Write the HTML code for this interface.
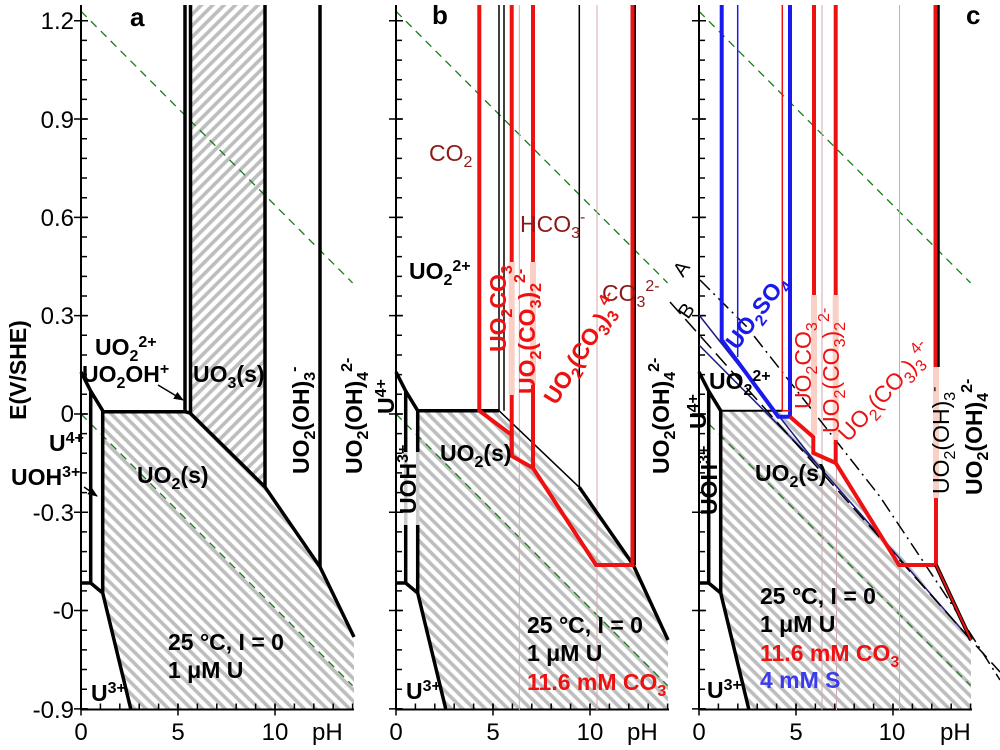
<!DOCTYPE html>
<html><head><meta charset="utf-8"><style>
html,body{margin:0;padding:0;background:#fff;}
svg{display:block;font-family:"Liberation Sans",Arial,sans-serif;}
.b{font-weight:bold;font-size:23px;}
.t{font-size:22px;}
</style></head><body>
<svg width="1000" height="750" viewBox="0 0 1000 750" xmlns="http://www.w3.org/2000/svg">
<defs>
<pattern id="hd" width="8" height="8" patternUnits="userSpaceOnUse" patternTransform="rotate(-45)"><rect width="8" height="8" fill="#fff"/><line x1="2" y1="0" x2="2" y2="8" stroke="#bdbdbd" stroke-width="3.6"/></pattern>
<pattern id="hu" width="8" height="8" patternUnits="userSpaceOnUse" patternTransform="rotate(45)"><rect width="8" height="8" fill="#fff"/><line x1="2" y1="0" x2="2" y2="8" stroke="#bdbdbd" stroke-width="3.6"/></pattern>
<marker id="ar" markerWidth="10" markerHeight="8" refX="9" refY="4" orient="auto" markerUnits="userSpaceOnUse"><path d="M0,0 L10,4 L0,8 z" fill="#000"/></marker>
<g id="common">
  <line x1="0" y1="11.3" x2="271.6" y2="282.9" stroke="#1a7a1a" stroke-width="1.3" stroke-dasharray="8 6"/>
  <line x1="0" y1="414" x2="271.6" y2="685.6" stroke="#1a7a1a" stroke-width="1.3" stroke-dasharray="8 6"/>
  <path d="M0 372 L9.7 391 L21.7 410.7" fill="none" stroke="#000" stroke-width="3.5"/>
  <path d="M0 583 H9.7 L21.7 593 L50 710" fill="none" stroke="#000" stroke-width="3.5"/>
  <line x1="0" y1="5" x2="0" y2="710" stroke="#000" stroke-width="2"/>
  <line x1="0" y1="709.5" x2="273" y2="709.5" stroke="#000" stroke-width="2"/>
  <line x1="3" y1="709.6" x2="3" y2="18" stroke="#000" stroke-width="6" stroke-dasharray="1.5 18.16"/>
  <line x1="0" y1="709.6" x2="0" y2="18" stroke="#000" stroke-width="14" stroke-dasharray="1.5 96.8"/>
  <line x1="-0.75" y1="706.5" x2="273" y2="706.5" stroke="#000" stroke-width="6" stroke-dasharray="1.5 17.9"/>
  <line x1="-0.75" y1="709.5" x2="273" y2="709.5" stroke="#000" stroke-width="12" stroke-dasharray="1.5 95.5"/>
</g>
</defs>

<!-- ================= Panel a ================= -->
<polygon points="101.7,411.7 185,411.7 190,413 265,487 320,567 354,637 354,710 131.7,710 101.7,593" fill="url(#hd)"/>
<polygon points="190,5 265,5 265,487 190,413" fill="url(#hu)"/>
<g transform="translate(81,0)">
  <use href="#common"/>
  <line x1="9.7" y1="391" x2="9.7" y2="583" stroke="#000" stroke-width="3.5"/>
  <line x1="21.7" y1="410.7" x2="21.7" y2="593" stroke="#000" stroke-width="3.5"/>
</g>
<path d="M101.7 411.7 H185 L190 413 L265 487 L320 567 L354 637" fill="none" stroke="#000" stroke-width="3.5"/>
<g stroke="#000" stroke-width="3.5">
<line x1="185" y1="5" x2="185" y2="411.7"/>
<line x1="190.5" y1="5" x2="190.5" y2="413"/>
<line x1="265" y1="5" x2="265" y2="487"/>
<line x1="320" y1="5" x2="320" y2="567"/>
</g>
<line x1="158" y1="385" x2="183" y2="400" stroke="#000" stroke-width="1.5" marker-end="url(#ar)"/>
<line x1="84" y1="487" x2="97" y2="496" stroke="#000" stroke-width="1.5" marker-end="url(#ar)"/>
<text x="130" y="26" class="b" style="font-size:26px">a</text>
<text x="95" y="355" class="b">UO<tspan dy="6" font-size="16">2</tspan><tspan dy="-14" font-size="16">2+</tspan></text>
<text x="82" y="382" class="b">UO<tspan dy="6" font-size="16">2</tspan><tspan dy="-6">OH</tspan><tspan dy="-8" font-size="16">+</tspan></text>
<text x="193" y="382" class="b">UO<tspan dy="6" font-size="16">3</tspan><tspan dy="-6">(s)</tspan></text>
<text transform="translate(309,474) rotate(-90)" class="b">UO<tspan dy="6" font-size="16">2</tspan><tspan dy="-6">(OH)</tspan><tspan dy="6" font-size="16">3</tspan><tspan dy="-16" font-size="16">-</tspan></text>
<text transform="translate(362,474) rotate(-90)" class="b">UO<tspan dy="6" font-size="16">2</tspan><tspan dy="-6">(OH)</tspan><tspan dy="6" font-size="16">4</tspan><tspan dy="-16" font-size="16">2-</tspan></text>
<text x="49" y="451" class="b">U<tspan dy="-8" font-size="16">4+</tspan></text>
<text x="11" y="485" class="b">UOH<tspan dy="-8" font-size="16">3+</tspan></text>
<text x="137" y="483" class="b">UO<tspan dy="6" font-size="16">2</tspan><tspan dy="-6">(s)</tspan></text>
<text x="168" y="650" class="b">25 °C, I = 0</text>
<text x="168" y="678" class="b">1 μM U</text>
<text x="91" y="701" class="b">U<tspan dy="-8" font-size="16">3+</tspan></text>
<text transform="translate(26,370) rotate(-90)" class="b" text-anchor="middle">E(V/SHE)</text>
<g class="t" text-anchor="end" style="font-size:24px">
<text x="74" y="29">1.2</text><text x="74" y="128">0.9</text><text x="74" y="226">0.6</text><text x="74" y="324">0.3</text>
<text x="74" y="422">0</text><text x="74" y="521">-0.3</text><text x="74" y="619">-0</text><text x="74" y="718">-0.9</text>
</g>
<g class="t" text-anchor="middle" style="font-size:24px">
<text x="81" y="740">0</text><text x="178" y="740">5</text><text x="275" y="740">10</text>
<text x="396" y="740">0</text><text x="493" y="740">5</text><text x="590" y="740">10</text>
<text x="699" y="740">0</text><text x="796" y="740">5</text><text x="892" y="740">10</text>
</g>
<g class="t" style="font-size:24px"><text x="312" y="740">pH</text><text x="627" y="740">pH</text><text x="940" y="740">pH</text></g>

<!-- ================= Panel b ================= -->
<polygon points="417.7,410.7 499,410.7 579.3,487.3 633.3,565 668,640 668,710 446,710 417.7,593" fill="url(#hd)"/>
<g transform="translate(396,0)">
  <use href="#common"/>
  <line x1="9.7" y1="391" x2="9.7" y2="452" stroke="#000" stroke-width="3.5"/>
  <line x1="9.7" y1="525" x2="9.7" y2="583" stroke="#000" stroke-width="3.5"/>
  <line x1="9.7" y1="452" x2="9.7" y2="525" stroke="#ccc" stroke-width="3.5"/>
  <line x1="21.7" y1="410.7" x2="21.7" y2="452" stroke="#000" stroke-width="3.5"/>
  <line x1="21.7" y1="525" x2="21.7" y2="593" stroke="#000" stroke-width="3.5"/>
  <line x1="21.7" y1="452" x2="21.7" y2="525" stroke="#ccc" stroke-width="3.5"/>
</g>
<g stroke="#d8a8a8" stroke-width="1"><line x1="519.3" y1="5" x2="519.3" y2="710"/><line x1="597" y1="5" x2="597" y2="710"/></g>
<line x1="417.7" y1="410.7" x2="499" y2="410.7" stroke="#000" stroke-width="3.5"/>
<path d="M499 410.7 L579.3 487.3" stroke="#000" stroke-width="1.5" fill="none"/>
<path d="M579.3 487.3 L633.3 565 L668 640" stroke="#000" stroke-width="3.5" fill="none"/>
<g stroke="#000" stroke-width="1.5"><line x1="499" y1="5" x2="499" y2="410.7"/><line x1="504" y1="5" x2="504" y2="410.7"/><line x1="579.3" y1="5" x2="579.3" y2="487.3"/></g>
<line x1="635" y1="5" x2="635" y2="565" stroke="#000" stroke-width="2"/>
<g stroke="#f9cfc6" stroke-width="6"><line x1="511.7" y1="262" x2="511.7" y2="395"/><line x1="533" y1="262" x2="533" y2="385"/></g>
<path d="M479.3 5 V410.7 L511.7 435 V456 L533 468 L596 565 H632.5 V5" fill="none" stroke="#ee1111" stroke-width="4"/>
<g stroke="#ee1111" stroke-width="4"><line x1="511.7" y1="5" x2="511.7" y2="262"/><line x1="511.7" y1="395" x2="511.7" y2="456"/><line x1="533" y1="5" x2="533" y2="262"/><line x1="533" y1="385" x2="533" y2="468"/></g>
<text x="432" y="24" class="b" style="font-size:26px">b</text>
<g fill="#8b1a1a" class="t" style="font-size:23px">
<text x="429" y="161">CO<tspan dy="6" font-size="16">2</tspan></text>
<text x="520" y="232">HCO<tspan dy="6" font-size="16">3</tspan><tspan dy="-16" font-size="16">-</tspan></text>
<text x="602" y="301">CO<tspan dy="6" font-size="16">3</tspan><tspan dy="-16" font-size="16">2-</tspan></text>
</g>
<text x="409" y="279" class="b">UO<tspan dy="6" font-size="16">2</tspan><tspan dy="-14" font-size="16">2+</tspan></text>
<g fill="#ee1111" class="b">
<text transform="translate(506,352) rotate(-90)">UO<tspan dy="6" font-size="16">2</tspan><tspan dy="-6">CO</tspan><tspan dy="6" font-size="16">3</tspan></text>
<text transform="translate(535,394) rotate(-90)">UO<tspan dy="6" font-size="16">2</tspan><tspan dy="-6">(CO</tspan><tspan dy="6" font-size="16">3</tspan><tspan dy="-6">)</tspan><tspan dy="6" font-size="16">2</tspan><tspan dy="-16" font-size="16">2-</tspan></text>
<text transform="translate(556,406) rotate(-58)">UO<tspan dy="6" font-size="16">2</tspan><tspan dy="-6">(CO</tspan><tspan dy="6" font-size="16">3</tspan><tspan dy="-6">)</tspan><tspan dy="6" font-size="16">3</tspan><tspan dy="-16" font-size="16">4-</tspan></text>
</g>
<text transform="translate(669,474) rotate(-90)" class="b">UO<tspan dy="6" font-size="16">2</tspan><tspan dy="-6">(OH)</tspan><tspan dy="6" font-size="16">4</tspan><tspan dy="-16" font-size="16">2-</tspan></text>
<text transform="translate(394,414) rotate(-90)" class="b">U<tspan dy="-8" font-size="16">4+</tspan></text>
<text transform="translate(416,514) rotate(-90)" class="b">UOH<tspan dy="-8" font-size="16">3+</tspan></text>
<text x="440" y="461" class="b">UO<tspan dy="6" font-size="16">2</tspan><tspan dy="-6">(s)</tspan></text>
<text x="527" y="633" class="b">25 °C, I = 0</text>
<text x="527" y="661" class="b">1 μM U</text>
<text x="527" y="690" class="b" fill="#ee1111">11.6 mM CO<tspan dy="6" font-size="16">3</tspan></text>
<text x="406" y="699" class="b">U<tspan dy="-8" font-size="16">3+</tspan></text>

<!-- ================= Panel c ================= -->
<polygon points="720,410.7 783,410.7 816,453 971,640 971,710 749,710 720,593" fill="url(#hd)"/>
<g transform="translate(699,0)">
  <use href="#common"/>
  <line x1="9.7" y1="391" x2="9.7" y2="583" stroke="#000" stroke-width="3.5"/>
  <line x1="21.7" y1="410.7" x2="21.7" y2="593" stroke="#000" stroke-width="3.5"/>
</g>
<g stroke="#d0a8b0" stroke-width="1"><line x1="822" y1="5" x2="822" y2="710"/><line x1="836.5" y1="5" x2="836.5" y2="710"/><line x1="899.5" y1="5" x2="899.5" y2="710"/></g>
<line x1="720" y1="410.7" x2="783" y2="410.7" stroke="#000" stroke-width="2"/>
<g fill="none" stroke="#1a1a80" stroke-width="1.5"><path d="M699 315 L816 463 L971 640"/><path d="M699 345 L816 463"/></g>
<polyline points="700,280 746.7,326.7 880,496.7 953.3,606.7 1000,680" fill="none" stroke="#000" stroke-width="1.5" stroke-dasharray="14 5 2 5"/>
<polyline points="670,302 971,640 1000,672" fill="none" stroke="#000" stroke-width="1.5" stroke-dasharray="16 7"/>
<line x1="737.7" y1="5" x2="737.7" y2="357" stroke="#1a1aee" stroke-width="1.5"/>
<path d="M721.7 5 V340 L778.3 416.7 H790 V5" fill="none" stroke="#1a1aee" stroke-width="4"/>
<path d="M782.3 5 V410.7 H790" fill="none" stroke="#ee1111" stroke-width="1.5"/>
<g stroke="#f9cfc6" stroke-width="6"><line x1="814" y1="295" x2="814" y2="435"/><line x1="835.7" y1="295" x2="835.7" y2="440"/><line x1="936" y1="367" x2="936" y2="498"/></g>
<line x1="938.5" y1="5" x2="938.5" y2="367" stroke="#000" stroke-width="2.5"/>
<path d="M790 416.7 L813.3 437 V453 L835.7 463 L899 565 H936 V498" fill="none" stroke="#ee1111" stroke-width="4"/>
<g stroke="#ee1111" stroke-width="4"><line x1="814" y1="5" x2="814" y2="295"/><line x1="835.7" y1="5" x2="835.7" y2="295"/><line x1="835.7" y1="440" x2="835.7" y2="463"/><line x1="935.5" y1="5" x2="935.5" y2="367"/></g>
<line x1="936" y1="565" x2="971" y2="640" stroke="#000" stroke-width="4"/>
<line x1="936" y1="565" x2="971" y2="640" stroke="#ee1111" stroke-width="2"/>
<text x="966" y="24" class="b" style="font-size:26px">c</text>
<text transform="translate(683,278) rotate(-55)" class="t" style="font-size:20px">A</text>
<text transform="translate(688,320) rotate(-55)" class="t" style="font-size:20px">B</text>
<text x="709" y="389" class="b">UO<tspan dy="6" font-size="16">2</tspan><tspan dy="-14" font-size="16">2+</tspan></text>
<text transform="translate(737,351) rotate(-53)" class="b" fill="#1a1aee">UO<tspan dy="6" font-size="16">2</tspan><tspan dy="-6">SO</tspan><tspan dy="6" font-size="16">4</tspan></text>
<g fill="#ee1111" class="t" style="font-size:23px">
<text transform="translate(811,409) rotate(-90)">UO<tspan dy="6" font-size="16">2</tspan><tspan dy="-6">CO</tspan><tspan dy="6" font-size="16">3</tspan></text>
<text transform="translate(839,433) rotate(-90)">UO<tspan dy="6" font-size="16">2</tspan><tspan dy="-6">(CO</tspan><tspan dy="6" font-size="16">3</tspan><tspan dy="-6">)</tspan><tspan dy="6" font-size="16">2</tspan><tspan dy="-16" font-size="16">2-</tspan></text>
<text transform="translate(848,443) rotate(-47)">UO<tspan dy="6" font-size="16">2</tspan><tspan dy="-6">(CO</tspan><tspan dy="6" font-size="16">3</tspan><tspan dy="-6">)</tspan><tspan dy="6" font-size="16">3</tspan><tspan dy="-16" font-size="16">4-</tspan></text>
</g>
<text transform="translate(949,494) rotate(-90)" class="t" style="font-size:23px">UO<tspan dy="6" font-size="16">2</tspan><tspan dy="-6">(OH)</tspan><tspan dy="6" font-size="16">3</tspan><tspan dy="-16" font-size="16">-</tspan></text>
<text transform="translate(982,495) rotate(-90)" class="b">UO<tspan dy="6" font-size="16">2</tspan><tspan dy="-6">(OH)</tspan><tspan dy="6" font-size="16">4</tspan><tspan dy="-16" font-size="16">2-</tspan></text>
<text transform="translate(706,429) rotate(-90)" class="b">U<tspan dy="-8" font-size="16">4+</tspan></text>
<text transform="translate(717,515) rotate(-90)" class="b">UOH<tspan dy="-8" font-size="16">3+</tspan></text>
<text x="755" y="481" class="b">UO<tspan dy="6" font-size="16">2</tspan><tspan dy="-6">(s)</tspan></text>
<text x="760" y="604" class="b">25 °C, I = 0</text>
<text x="760" y="632" class="b">1 μM U</text>
<text x="760" y="661" class="b" fill="#ee1111">11.6 mM CO<tspan dy="6" font-size="16">3</tspan></text>
<text x="760" y="688" class="b" fill="#3a3aee">4 mM S</text>
<text x="707" y="698" class="b">U<tspan dy="-8" font-size="16">3+</tspan></text>
</svg>
</body></html>
